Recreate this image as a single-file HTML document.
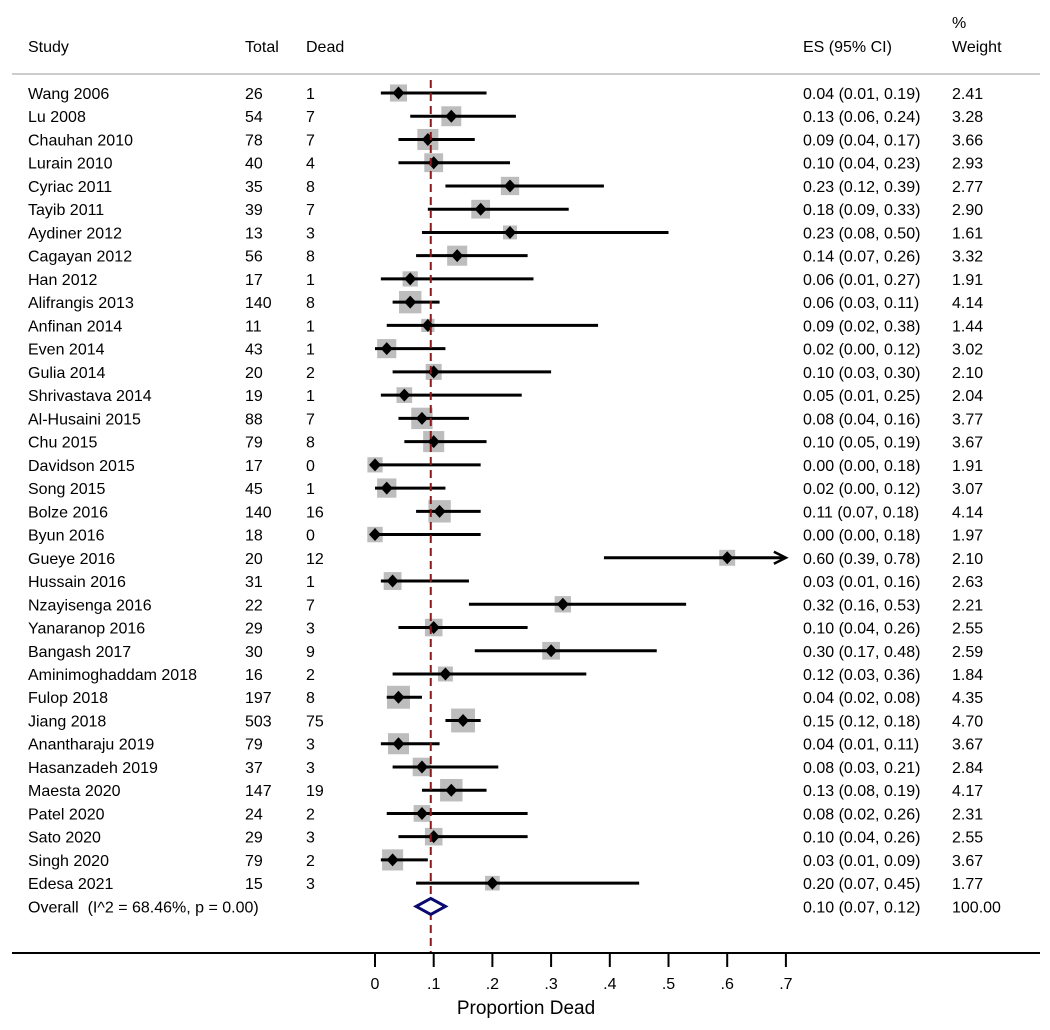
<!DOCTYPE html>
<html><head><meta charset="utf-8">
<style>
html,body{margin:0;padding:0;background:#fff;}
svg{display:block;font-family:"Liberation Sans",Arial,sans-serif;}
text{font-size:16px;fill:#000;}
</style></head>
<body>
<svg id="chart" width="1050" height="1030" viewBox="0 0 1050 1030"></svg>
<script>
const studies=["Wang 2006","Lu 2008","Chauhan 2010","Lurain 2010","Cyriac 2011","Tayib 2011","Aydiner 2012","Cagayan 2012","Han 2012","Alifrangis 2013","Anfinan 2014","Even 2014","Gulia 2014","Shrivastava 2014","Al-Husaini 2015","Chu 2015","Davidson 2015","Song 2015","Bolze 2016","Byun 2016","Gueye 2016","Hussain 2016","Nzayisenga 2016","Yanaranop 2016","Bangash 2017","Aminimoghaddam 2018","Fulop 2018","Jiang 2018","Anantharaju 2019","Hasanzadeh 2019","Maesta 2020","Patel 2020","Sato 2020","Singh 2020","Edesa 2021"];
const totals=[26,54,78,40,35,39,13,56,17,140,11,43,20,19,88,79,17,45,140,18,20,31,22,29,30,16,197,503,79,37,147,24,29,79,15];
const deads=[1,7,7,4,8,7,3,8,1,8,1,1,2,1,7,8,0,1,16,0,12,1,7,3,9,2,8,75,3,3,19,2,3,2,3];
const es=[0.04,0.13,0.09,0.10,0.23,0.18,0.23,0.14,0.06,0.06,0.09,0.02,0.10,0.05,0.08,0.10,0.00,0.02,0.11,0.00,0.60,0.03,0.32,0.10,0.30,0.12,0.04,0.15,0.04,0.08,0.13,0.08,0.10,0.03,0.20];
const lo=[0.01,0.06,0.04,0.04,0.12,0.09,0.08,0.07,0.01,0.03,0.02,0.00,0.03,0.01,0.04,0.05,0.00,0.00,0.07,0.00,0.39,0.01,0.16,0.04,0.17,0.03,0.02,0.12,0.01,0.03,0.08,0.02,0.04,0.01,0.07];
const hi=[0.19,0.24,0.17,0.23,0.39,0.33,0.50,0.26,0.27,0.11,0.38,0.12,0.30,0.25,0.16,0.19,0.18,0.12,0.18,0.18,0.78,0.16,0.53,0.26,0.48,0.36,0.08,0.18,0.11,0.21,0.19,0.26,0.26,0.09,0.45];
const weights=[2.41,3.28,3.66,2.93,2.77,2.90,1.61,3.32,1.91,4.14,1.44,3.02,2.10,2.04,3.77,3.67,1.91,3.07,4.14,1.97,2.10,2.63,2.21,2.55,2.59,1.84,4.35,4.70,3.67,2.84,4.17,2.31,2.55,3.67,1.77];
const overallES=0.095, overallLo=0.07, overallHi=0.12;
const overallLabel="Overall\u00a0 (I^2 = 68.46%, p = 0.00)";
const overallText="0.10 (0.07, 0.12)";
const overallWeight="100.00";
const ticks=[0,0.1,0.2,0.3,0.4,0.5,0.6,0.7];
const tickLabels=["0",".1",".2",".3",".4",".5",".6",".7"];

const svg=document.getElementById('chart');
const NS="http://www.w3.org/2000/svg";
const x=v=>375+v*587;
const y=i=>93+i*23.24;
function el(tag,attrs,parent){const e=document.createElementNS(NS,tag);for(const k in attrs)e.setAttribute(k,attrs[k]);(parent||svg).appendChild(e);return e;}
function txt(s,px,py,name,anchor){const t=el('text',{x:px,y:py});if(anchor)t.setAttribute('text-anchor',anchor);t.textContent=s;


return t;}

txt("Study",28,52,'header-study');
txt("Total",245,52,'header-total');
txt("Dead",306,52,'header-dead');
txt("ES (95% CI)",803,52,'header-es');
txt("%",952,28,'header-percent');
txt("Weight",952,52,'header-weight');
const hl=el('line',{x1:12,y1:74,x2:1040,y2:74,stroke:'#bbb','stroke-width':1.5});



const f2=v=>v.toFixed(2);
studies.forEach((s,i)=>{
  const yy=y(i);
  const g=el('g',{});
  
  
  const sd=Math.sqrt(weights[i])*11;
  const b=el('rect',{x:x(es[i])-sd/2,y:yy-sd/2,width:sd,height:sd,fill:'#bdbdbd'},g);
  
  
  const h=Math.min(hi[i],0.7);
  const l=el('line',{x1:x(lo[i]),y1:yy,x2:x(h)-(hi[i]>0.7?2:0),y2:yy,stroke:'#000','stroke-width':3},g);
  
  
  if(hi[i]>0.7){
    const a=el('path',{d:`M${x(0.7)-12},${yy-6} L${x(0.7)},${yy} L${x(0.7)-12},${yy+6}`,fill:'none',stroke:'#000','stroke-width':2.5},g);
    
    
  }
  const d=el('path',{d:`M${x(es[i])-6},${yy} L${x(es[i])},${yy-6.5} L${x(es[i])+6},${yy} L${x(es[i])},${yy+6.5}Z`,fill:'#000'},g);
  
  
  txt(s,28,yy+6,'study-name');
  txt(String(totals[i]),245,yy+6,'total-value');
  txt(String(deads[i]),306,yy+6,'dead-value');
  txt(`${f2(es[i])} (${f2(lo[i])}, ${f2(hi[i])})`,803,yy+6,'es-ci-value');
  txt(f2(weights[i]),952,yy+6,'weight-value');
});
const oy=y(studies.length);
txt(overallLabel,28,oy+6,'overall-label');
txt(overallText,803,oy+6,'overall-es');
txt(overallWeight,952,oy+6,'overall-weight');

const ref=el('line',{x1:x(overallES),y1:80,x2:x(overallES),y2:953,stroke:'#8b1a1a','stroke-width':2,'stroke-dasharray':'8,5'});


const dm=el('path',{d:`M${x(overallLo)},${oy} L${x(overallES)},${oy-8} L${x(overallHi)},${oy} L${x(overallES)},${oy+8}Z`,fill:'#fff',stroke:'#0a0a6e','stroke-width':3});



const ax=el('line',{x1:12,y1:953,x2:1040,y2:953,stroke:'#000','stroke-width':2});


ticks.forEach((t,i)=>{
  const tk=el('line',{x1:x(t),y1:953,x2:x(t),y2:967,stroke:'#000','stroke-width':2});
  
  
  txt(tickLabels[i],x(t),989,'x-tick-label','middle');
});
const tt=txt("Proportion Dead",526,1014,'x-axis-title','middle');
tt.setAttribute('style','font-size:19px');
</script>
</body></html>
